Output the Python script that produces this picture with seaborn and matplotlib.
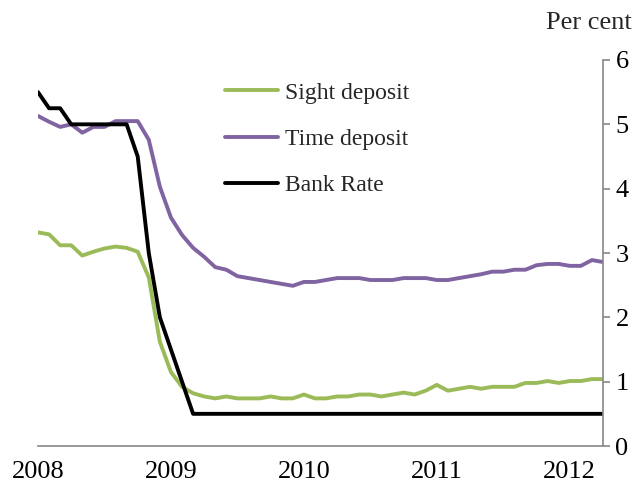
import seaborn as sns
import pandas as pd
import matplotlib.pyplot as plt

# monthly data, Jan 2008 - Apr 2012 (per cent)
months = pd.date_range("2008-01-01", "2012-04-01", freq="MS")
sight = [3.32, 3.29, 3.12, 3.12, 2.96, 3.02, 3.07, 3.10, 3.08, 3.02,
         2.62, 1.62, 1.15, 0.92, 0.82, 0.77, 0.74, 0.77, 0.74, 0.74,
         0.74, 0.77, 0.74, 0.74, 0.80, 0.74, 0.74, 0.77, 0.77, 0.80,
         0.80, 0.77, 0.80, 0.83, 0.80, 0.86, 0.95, 0.86, 0.89, 0.92,
         0.89, 0.92, 0.92, 0.92, 0.98, 0.98, 1.01, 0.98, 1.01, 1.01,
         1.04, 1.04]
time = [5.13, 5.04, 4.96, 5.00, 4.87, 4.96, 4.96, 5.05, 5.05, 5.05,
        4.76, 4.03, 3.55, 3.28, 3.08, 2.94, 2.78, 2.74, 2.64, 2.61,
        2.58, 2.55, 2.52, 2.49, 2.55, 2.55, 2.58, 2.61, 2.61, 2.61,
        2.58, 2.58, 2.58, 2.61, 2.61, 2.61, 2.58, 2.58, 2.61, 2.64,
        2.67, 2.71, 2.71, 2.74, 2.74, 2.81, 2.83, 2.83, 2.80, 2.80,
        2.89, 2.86]
bank = [5.5, 5.25, 5.25, 5.0, 5.0, 5.0, 5.0, 5.0, 5.0, 4.5,
        3.0, 2.0, 1.5, 1.0] + [0.5] * 38

x = [2008 + i / 12 for i in range(len(months))]
df = pd.DataFrame({"x": x, "Sight deposit": sight,
                   "Time deposit": time, "Bank Rate": bank})
long_df = df.melt(id_vars="x", var_name="series", value_name="rate")

sns.set_style("white")
plt.rcParams["font.family"] = ["Liberation Serif", "DejaVu Serif"]

fig = plt.figure(figsize=(6.41, 4.9), dpi=100)
ax = fig.add_axes([38 / 641, 1 - 446 / 490, (603 - 38) / 641, (446 - 60) / 490])

sns.lineplot(data=long_df, x="x", y="rate", hue="series",
             palette={"Sight deposit": "#9BBB59", "Time deposit": "#8064A2",
                      "Bank Rate": "black"},
             linewidth=2.8, ax=ax)

ax.set_xlim(2008, 2008 + 51 / 12)
ax.set_ylim(0, 6)
ax.set_xticks([2008, 2009, 2010, 2011, 2012])
ax.set_xticklabels(["2008", "2009", "2010", "2011", "2012"])
ax.set_yticks(range(7))
ax.set_xlabel("")
ax.set_ylabel("")

for s in ["left", "top"]:
    ax.spines[s].set_visible(False)
for s in ["right", "bottom"]:
    ax.spines[s].set_color("#888888")
    ax.spines[s].set_linewidth(1.2)

ax.yaxis.tick_right()
ax.tick_params(axis="both", direction="out", length=5, width=1.2,
               color="#888888", labelsize=19, labelcolor="black")
ax.tick_params(axis="x", pad=6)
ax.tick_params(axis="y", pad=4)

fig.text(632 / 641, 1 - 23 / 490, "Per cent", ha="right", va="center", fontsize=19)

leg = ax.legend(loc="upper left", bbox_to_anchor=(225 / 641, 1 - 82 / 490),
                bbox_transform=fig.transFigure, frameon=False, fontsize=17,
                handlelength=2.25, handletextpad=0.3, labelspacing=1.05,
                borderpad=0, borderaxespad=0)

fig.savefig("out.png", dpi=100)
